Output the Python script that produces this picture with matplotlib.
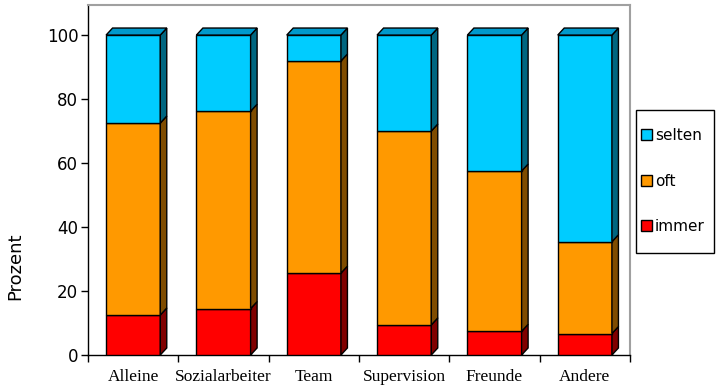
import numpy as np
import matplotlib
matplotlib.use("Agg")
import matplotlib.pyplot as plt
from matplotlib.patches import Patch, Rectangle

categories = ["Alleine", "Sozialarbeiter", "Team", "Supervision", "Freunde", "Andere"]
immer = [12.5, 14.5, 25.6, 9.4, 7.4, 6.7]
oft = [60.0, 61.7, 66.3, 60.6, 50.1, 28.7]
selten = [27.5, 23.8, 8.1, 30.0, 42.5, 64.6]

series = [("immer", immer), ("oft", oft), ("selten", selten)]
front = {"immer": "#FF0000", "oft": "#FF9900", "selten": "#00CCFF"}
side = {"immer": "#800000", "oft": "#7F4C00", "selten": "#006680"}
top_col = "#0099CC"

fig = plt.figure(figsize=(7.17, 3.87), dpi=100)
ax = fig.add_axes([88/717, 1-355/387, (630-88)/717, (355-5)/387])

x = np.arange(len(categories))
w = 0.6
dx, dy = 0.072, 2.2

bottom = np.zeros(len(categories))
for name, vals in series:
    vals = np.array(vals)
    ax.bar(x, vals, w, bottom=bottom, color=front[name], edgecolor="black",
           linewidth=1, zorder=3)
    for i in range(len(x)):
        xr = x[i] + w/2
        y0, y1 = bottom[i], bottom[i] + vals[i]
        ax.fill([xr, xr+dx, xr+dx, xr], [y0, y0+dy, y1+dy, y1],
                color=side[name], edgecolor="black", linewidth=1, zorder=3)
    bottom = bottom + vals

# top faces
for i in range(len(x)):
    xl, xr = x[i] - w/2, x[i] + w/2
    t = bottom[i]
    ax.fill([xl, xl+dx, xr+dx, xr], [t, t+dy, t+dy, t],
            color=top_col, edgecolor="black", linewidth=1, zorder=3)

ax.set_xlim(-0.5, len(categories) - 0.5)
ax.set_ylim(0, 109.4)
ax.set_yticks([0, 20, 40, 60, 80, 100])
ax.tick_params(axis="y", labelsize=12, length=5, width=1, pad=2)
ax.set_xticks(np.arange(len(categories) + 1) - 0.5)
ax.set_xticklabels([])
ax.set_xticks(x, minor=True)
ax.set_xticklabels(categories, minor=True, family="Liberation Serif", fontsize=12.5)
ax.tick_params(axis="x", which="major", length=5, width=1)
ax.tick_params(axis="x", which="minor", length=0, pad=10)

for s in ["top", "right"]:
    ax.spines[s].set_color("#A0A0A0")
    ax.spines[s].set_linewidth(1.5)
for s in ["left", "bottom"]:
    ax.spines[s].set_color("black")
    ax.spines[s].set_linewidth(1)

fig.text(15/717, 1-266/387, "Prozent", rotation=90, ha="center", va="center",
         fontsize=13)

# legend box
fig.patches.append(Rectangle((636/717, 1-253/387), 78/717, 143/387,
                             transform=fig.transFigure, facecolor="white",
                             edgecolor="black", linewidth=1))
handles = [Patch(facecolor=front[n], edgecolor="black", linewidth=1) for n in ["selten", "oft", "immer"]]
leg = fig.legend(handles, ["selten", "oft", "immer"], loc="center left",
                 bbox_to_anchor=(638/717, 1-181/387), fontsize=11,
                 frameon=False, handlelength=0.7, handleheight=0.7,
                 handletextpad=0.2, labelspacing=2.0, borderpad=0.2,
                 borderaxespad=0)

fig.savefig("out.png", dpi=100)
